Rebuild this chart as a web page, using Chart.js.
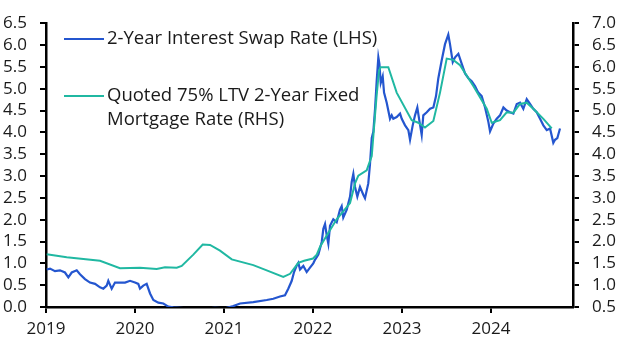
<!DOCTYPE html>
<html>
<head>
<meta charset="utf-8">
<script src="https://cdn.jsdelivr.net/npm/chart.js@4.4.1/dist/chart.umd.min.js"></script>
<style>
  body { margin: 0; background: #fff; }
  #wrap { width: 629px; height: 354px; }
</style>
</head>
<body>
<div id="wrap"><canvas id="rateChart" width="629" height="354"></canvas></div>
<script>
// 2-year swap rate (LHS), decimal years
const swapYears = [
  2019.008, 2019.045, 2019.101, 2019.157, 2019.213, 2019.251, 2019.289, 2019.345, 2019.382, 2019.438,
  2019.494, 2019.551, 2019.607, 2019.644, 2019.682, 2019.700, 2019.738, 2019.775, 2019.831, 2019.888,
  2019.944, 2020.000, 2020.037, 2020.056, 2020.093, 2020.131, 2020.169, 2020.206, 2020.262, 2020.318,
  2020.374, 2020.430, 2020.581, 2020.730, 2020.899, 2021.011, 2021.104, 2021.180, 2021.329, 2021.480,
  2021.554, 2021.629, 2021.685, 2021.722, 2021.761, 2021.787, 2021.817, 2021.835, 2021.854, 2021.891,
  2021.929, 2021.966, 2022.003, 2022.022, 2022.060, 2022.098, 2022.116, 2022.135, 2022.154, 2022.172,
  2022.191, 2022.228, 2022.266, 2022.303, 2022.322, 2022.340, 2022.379, 2022.416, 2022.435, 2022.453,
  2022.472, 2022.498, 2022.528, 2022.565, 2022.584, 2022.621, 2022.640, 2022.660, 2022.678, 2022.697,
  2022.716, 2022.734, 2022.746, 2022.761, 2022.783, 2022.798, 2022.828, 2022.865, 2022.884, 2022.902,
  2022.940, 2022.978, 2022.997, 2023.034, 2023.071, 2023.090, 2023.120, 2023.146, 2023.172, 2023.194,
  2023.221, 2023.239, 2023.278, 2023.315, 2023.352, 2023.382, 2023.408, 2023.446, 2023.483, 2023.520,
  2023.539, 2023.570, 2023.596, 2023.633, 2023.671, 2023.708, 2023.746, 2023.783, 2023.820, 2023.857,
  2023.895, 2023.933, 2023.970, 2023.989, 2024.026, 2024.064, 2024.101, 2024.139, 2024.176, 2024.213,
  2024.251, 2024.289, 2024.326, 2024.363, 2024.401, 2024.438, 2024.475, 2024.513, 2024.551, 2024.588,
  2024.626, 2024.663, 2024.700, 2024.719, 2024.745, 2024.775
];
const swapRates = [
  0.86, 0.88, 0.82, 0.84, 0.79, 0.68, 0.79, 0.84, 0.75, 0.64,
  0.56, 0.53, 0.45, 0.42, 0.49, 0.60, 0.42, 0.56, 0.56, 0.56,
  0.60, 0.56, 0.53, 0.42, 0.49, 0.53, 0.31, 0.16, 0.10, 0.08,
  0.01, -0.01, -0.03, -0.04, -0.02, -0.03, 0.02, 0.08, 0.11, 0.16,
  0.19, 0.24, 0.27, 0.42, 0.60, 0.80, 0.95, 1.01, 0.86, 0.94,
  0.80, 0.90, 1.00, 1.08, 1.20, 1.49, 1.79, 1.90, 1.64, 1.45,
  1.86, 2.01, 1.94, 2.23, 2.31, 2.05, 2.23, 2.53, 2.87, 3.05,
  2.75, 2.53, 2.75, 2.57, 2.49, 2.83, 3.27, 3.87, 4.02, 4.54,
  5.20, 5.72, 5.57, 5.13, 5.28, 4.91, 4.68, 4.31, 4.39, 4.31,
  4.35, 4.43, 4.31, 4.16, 4.05, 3.83, 4.16, 4.39, 4.57, 4.28,
  3.94, 4.39, 4.46, 4.54, 4.57, 4.83, 5.24, 5.65, 6.02, 6.24,
  6.02, 5.61, 5.72, 5.80, 5.57, 5.35, 5.24, 5.17, 5.06, 4.91,
  4.83, 4.57, 4.24, 4.02, 4.20, 4.31, 4.39, 4.57, 4.50, 4.46,
  4.43, 4.65, 4.68, 4.54, 4.76, 4.65, 4.54, 4.46, 4.31, 4.16,
  4.05, 4.09, 3.76, 3.83, 3.87, 4.09
];

// Quoted 75% LTV 2-year fixed mortgage rate (RHS)
const mortYears = [
  2019.008, 2019.233, 2019.607, 2019.831, 2020.056, 2020.244, 2020.337, 2020.469, 2020.525, 2020.655,
  2020.761, 2020.843, 2020.955, 2021.087, 2021.329, 2021.480, 2021.666, 2021.742, 2021.835, 2021.900,
  2022.000, 2022.042, 2022.079, 2022.154, 2022.266, 2022.416, 2022.472, 2022.509, 2022.603, 2022.660,
  2022.685, 2022.713, 2022.741, 2022.758, 2022.846, 2022.940, 2023.109, 2023.183, 2023.258, 2023.352,
  2023.427, 2023.502, 2023.576, 2023.652, 2023.801, 2023.952, 2024.008, 2024.101, 2024.176, 2024.251,
  2024.326, 2024.401, 2024.475, 2024.588, 2024.682
];
const mortRates = [
  1.71, 1.64, 1.56, 1.39, 1.40, 1.37, 1.41, 1.40, 1.44, 1.70,
  1.93, 1.92, 1.79, 1.59, 1.46, 1.34, 1.19, 1.26, 1.51, 1.56,
  1.61, 1.70, 1.88, 2.14, 2.51, 2.88, 3.33, 3.51, 3.63, 3.96,
  4.60, 5.30, 5.90, 5.99, 5.99, 5.41, 4.78, 4.72, 4.61, 4.76,
  5.41, 6.19, 6.16, 6.04, 5.56, 5.04, 4.72, 4.78, 4.96, 4.95,
  5.15, 5.18, 5.04, 4.81, 4.59
];

const yearTicks = [2019, 2020, 2021, 2022, 2023, 2024];
const swapLabel = '2-Year Interest Swap Rate (LHS)';
const mortLabel = ['Quoted 75% LTV 2-Year Fixed', 'Mortgage Rate (RHS)'];

const BLUE = '#2456cf';
const TEAL = '#20b8a2';
const INK = '#1a1a1a';

Chart.defaults.font.family = "'Open Sans', sans-serif";
Chart.defaults.font.size = 17;
Chart.defaults.color = INK;

// legend drawn by hand so the second label can wrap like the original
const legendPlugin = {
    id: 'sideLegend',
    afterDraw(chart) {
        const ctx = chart.ctx;
        const items = [
            { color: BLUE, lines: [swapLabel], y: 39 },
            { color: TEAL, lines: mortLabel, y: 96 }
        ];
        ctx.save();
        ctx.font = "18.5px 'Open Sans'";
        ctx.textBaseline = 'middle';
        ctx.fillStyle = INK;
        items.forEach(item => {
            ctx.strokeStyle = item.color;
            ctx.lineWidth = 2;
            ctx.beginPath();
            ctx.moveTo(64, item.y);
            ctx.lineTo(104, item.y);
            ctx.stroke();
            item.lines.forEach((txt, i) => {
                ctx.fillText(txt, 107, item.y + i * 24);
            });
        });
        ctx.restore();
    }
};

const axisGrid = {
    drawOnChartArea: false,
    drawTicks: true,
    tickLength: 6,
    color: '#000',
    lineWidth: 2
};
const axisBorder = { display: true, color: '#000', width: 2.5 };

const ctx = document.getElementById('rateChart').getContext('2d');
new Chart(ctx, {
    type: 'line',
    data: {
        datasets: [
            {
                label: mortLabel.join(' '),
                data: mortYears.map((x, i) => ({ x: x, y: mortRates[i] })),
                yAxisID: 'yR',
                borderColor: TEAL,
                borderWidth: 2,
                pointRadius: 0,
                tension: 0
            },
            {
                label: swapLabel,
                data: swapYears.map((x, i) => ({ x: x, y: swapRates[i] })),
                yAxisID: 'yL',
                borderColor: BLUE,
                borderWidth: 2.2,
                pointRadius: 0,
                tension: 0
            }
        ]
    },
    options: {
        responsive: false,
        animation: false,
        layout: { padding: { top: 15, left: 0, right: 0, bottom: 0 } },
        plugins: {
            legend: { display: false },
            tooltip: { enabled: false }
        },
        scales: {
            x: {
                type: 'linear',
                min: 2019,
                max: 2024.921,
                afterFit: s => { s.height = 47; },
                afterBuildTicks: s => { s.ticks = yearTicks.map(v => ({ value: v })); },
                ticks: { padding: 6, autoSkip: false, callback: v => String(v), maxRotation: 0 },
                grid: axisGrid,
                border: axisBorder
            },
            yL: {
                position: 'left',
                min: 0,
                max: 6.5,
                afterFit: s => { s.width = 46; },
                ticks: { stepSize: 0.5, autoSkip: false, padding: 13, callback: v => v.toFixed(1) },
                grid: axisGrid,
                border: axisBorder
            },
            yR: {
                position: 'right',
                min: 0.5,
                max: 7.0,
                afterFit: s => { s.width = 56; },
                ticks: { stepSize: 0.5, autoSkip: false, padding: 13, callback: v => v.toFixed(1) },
                grid: axisGrid,
                border: axisBorder
            }
        }
    },
    plugins: [legendPlugin]
});
</script>
</body>
</html>
